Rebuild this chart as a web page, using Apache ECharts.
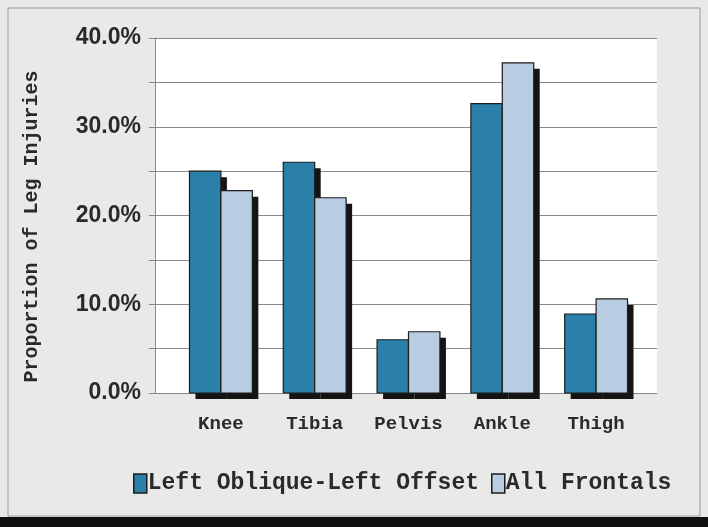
<!DOCTYPE html>
<html>
<head>
<meta charset="utf-8">
<script src="https://cdn.jsdelivr.net/npm/echarts@6/dist/echarts.min.js"></script>
<style>
  html, body { margin: 0; padding: 0; background: #e9e9e7; }
  #chart { width: 708px; height: 527px; }
</style>
</head>
<body>
<div id="chart"></div>
<script>
const categories = ['Knee', 'Tibia', 'Pelvis', 'Ankle', 'Thigh'];
const leftOblique = [0.250, 0.260, 0.060, 0.326, 0.089];
const allFrontals = [0.228, 0.220, 0.069, 0.372, 0.106];
const seriesNames = ['Left Oblique-Left Offset', 'All Frontals'];
const seriesColors = ['#2a80a8', '#b9cde2'];

const chart = echarts.init(document.getElementById('chart'));

// bar with a hard black drop shadow, drawn through the category/value scales
function barRenderer(slot) {
  return function (params, api) {
    const idx = api.value(0);
    const val = api.value(1);
    const base = api.coord([idx, 0]);
    const top = api.coord([idx, val]);
    const band = api.size([1, 0])[0];
    const w = band * 0.335;
    const x = base[0] - w + slot * w;
    const h = base[1] - top[1];
    return {
      type: 'group',
      children: [
        { type: 'rect', shape: { x: x + 6, y: top[1] + 6, width: w, height: h }, style: { fill: '#141414' } },
        { type: 'rect', shape: { x: x, y: top[1], width: w, height: h },
          style: { fill: api.visual('color'), stroke: '#1c1c1c', lineWidth: 1.2 } }
      ]
    };
  };
}

const option = {
  backgroundColor: '#e9e9e7',
  animation: false,
  graphic: [
    { type: 'rect', shape: { x: 8, y: 8, width: 692, height: 508 },
      style: { fill: 'none', stroke: '#9a9a9a', lineWidth: 1 }, z: -1 },
    { type: 'rect', shape: { x: 0, y: 517, width: 708, height: 10 }, style: { fill: '#111' } }
  ],
  grid: [
    { left: 155, right: 51, top: 38, bottom: 134, show: true, backgroundColor: '#fff', borderWidth: 0 },
    { left: 174, right: 65, top: 38, bottom: 134 }
  ],
  legend: {
    data: seriesNames,
    left: 128,
    top: 467,
    itemWidth: 13,
    itemHeight: 19,
    itemGap: 12,
    icon: 'rect',
    itemStyle: { borderColor: '#1c1c1c', borderWidth: 1.5 },
    textStyle: { fontFamily: 'Liberation Mono', fontWeight: 'bold', fontSize: 23, color: '#2a2a2a', padding: [0, 0, 0, -4] }
  },
  xAxis: [
    {
      type: 'category', gridIndex: 0, data: categories,
      axisLine: { lineStyle: { color: '#888' } },
      axisTick: { show: false }, axisLabel: { show: false }
    },
    {
      type: 'category', gridIndex: 1, data: categories,
      axisLine: { show: false }, axisTick: { show: false },
      axisLabel: { fontFamily: 'Liberation Mono', fontWeight: 'bold', fontSize: 19, color: '#2a2a2a', margin: 22 }
    }
  ],
  yAxis: [
    {
      type: 'value', gridIndex: 0, min: 0, max: 0.4, interval: 0.05,
      name: 'Proportion of Leg Injuries',
      nameLocation: 'middle',
      nameGap: 113,
      nameTextStyle: { fontFamily: 'Liberation Mono', fontWeight: 'bold', fontSize: 20, color: '#2a2a2a', padding: [0, 22, 0, 0] },
      axisLine: { show: true, lineStyle: { color: '#888' } },
      axisTick: { show: true, length: 6, lineStyle: { color: '#888' } },
      splitLine: { lineStyle: { color: '#8a8a8a' } },
      axisLabel: {
        fontFamily: 'Liberation Sans, Arial',
        fontWeight: 'bold',
        fontSize: 23,
        color: '#2a2a2a',
        margin: 14,
        formatter: (v) => {
          const p = Math.round(v * 1000) / 10;
          return (Math.round(p) % 10 === 0) ? p.toFixed(1) + '%' : '';
        }
      }
    },
    { type: 'value', gridIndex: 1, min: 0, max: 0.4, show: false }
  ],
  series: [
    {
      name: seriesNames[0], type: 'custom', xAxisIndex: 1, yAxisIndex: 1,
      data: leftOblique.map((v, i) => [i, v]),
      encode: { x: 0, y: 1 },
      itemStyle: { color: seriesColors[0] },
      renderItem: barRenderer(0)
    },
    {
      name: seriesNames[1], type: 'custom', xAxisIndex: 1, yAxisIndex: 1,
      data: allFrontals.map((v, i) => [i, v]),
      encode: { x: 0, y: 1 },
      itemStyle: { color: seriesColors[1] },
      renderItem: barRenderer(1)
    }
  ]
};

chart.setOption(option);
</script>
</body>
</html>
